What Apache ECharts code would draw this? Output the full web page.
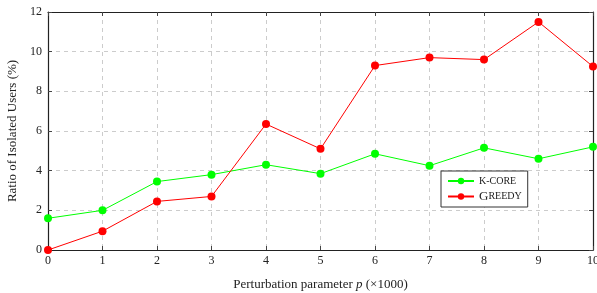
<!DOCTYPE html>
<html>
<head>
<meta charset="utf-8">
<script src="https://cdn.jsdelivr.net/npm/echarts@6/dist/echarts.min.js"></script>
<style>
  html, body { margin: 0; padding: 0; background: #fff; }
  #main { width: 597px; height: 293px; }
</style>
</head>
<body>
<div id="main"></div>
<script>
const xTicks = [0, 1, 2, 3, 4, 5, 6, 7, 8, 9, 10]
const kcore = [1.6, 2.0, 3.45, 3.8, 4.3, 3.85, 4.85, 4.25, 5.15, 4.6, 5.2]
const greedy = [0, 0.95, 2.45, 2.7, 6.35, 5.1, 9.3, 9.7, 9.6, 11.5, 9.25]

const FONT = 'Liberation Serif'
const chart = echarts.init(document.getElementById('main'))

const toPairs = vals => vals.map((v, i) => [xTicks[i], v])

const frame = { show: true, onZero: false, lineStyle: { color: '#222', width: 1.2 } }
const tickStyle = { show: true, inside: true, length: 4, lineStyle: { color: '#444' } }
const gridLines = { show: true, lineStyle: { type: [4, 4], color: '#ccc', width: 1 } }

const option = {
  animation: false,
  textStyle: { fontFamily: FONT },
  grid: { left: 48, right: 4, top: 12, bottom: 43, outerBoundsMode: 'none', containLabel: false },
  legend: {
    orient: 'vertical',
    left: 441,
    top: 171,
    padding: [5, 6, 4, 6],
    itemGap: 4,
    itemWidth: 26,
    itemHeight: 8,
    borderColor: '#333',
    borderWidth: 1,
    backgroundColor: '#fff',
    textStyle: {
      fontFamily: FONT,
      color: '#222',
      rich: {
        big: { fontSize: 13, fontFamily: FONT, color: '#222' },
        sm: { fontSize: 10, fontFamily: FONT, color: '#222' }
      }
    },
    formatter: name => name === 'Greedy' ? '{big|G}{sm|REEDY}' : '{sm|K-CORE}',
    data: ['K-core', 'Greedy']
  },
  xAxis: [{
    type: 'value',
    min: 0, max: 10, interval: 1,
    name: 'Perturbation parameter {i|p} (×1000)',
    nameLocation: 'middle',
    nameGap: 28,
    nameTextStyle: {
      fontFamily: FONT, fontSize: 13, color: '#222',
      rich: { i: { fontStyle: 'italic', fontFamily: FONT, fontSize: 13, color: '#222' } }
    },
    axisLine: frame,
    axisTick: tickStyle,
    axisLabel: { color: '#222', fontSize: 12, fontFamily: FONT, margin: 5 },
    splitLine: gridLines
  }, {
    type: 'value', position: 'top',
    min: 0, max: 10, interval: 1,
    axisLine: frame,
    axisTick: tickStyle,
    axisLabel: { show: false },
    splitLine: { show: false }
  }],
  yAxis: [{
    type: 'value',
    min: 0, max: 12, interval: 2,
    name: 'Ratio of Isolated Users (%)',
    nameLocation: 'middle',
    nameGap: 26,
    nameTextStyle: { fontFamily: FONT, fontSize: 13, color: '#222' },
    axisLine: frame,
    axisTick: tickStyle,
    axisLabel: { color: '#222', fontSize: 12, fontFamily: FONT, margin: 6 },
    splitLine: gridLines
  }, {
    type: 'value', position: 'right',
    min: 0, max: 12, interval: 2,
    axisLine: frame,
    axisTick: tickStyle,
    axisLabel: { show: false },
    splitLine: { show: false }
  }],
  series: [{
    name: 'K-core',
    type: 'line',
    data: toPairs(kcore),
    symbol: 'circle',
    symbolSize: 8,
    itemStyle: { color: '#00ff00' },
    lineStyle: { color: '#00ff00', width: 1 }
  }, {
    name: 'Greedy',
    type: 'line',
    data: toPairs(greedy),
    symbol: 'circle',
    symbolSize: 8,
    itemStyle: { color: '#ff0000' },
    lineStyle: { color: '#ff0000', width: 1 }
  }]
}

chart.setOption(option)
</script>
</body>
</html>
